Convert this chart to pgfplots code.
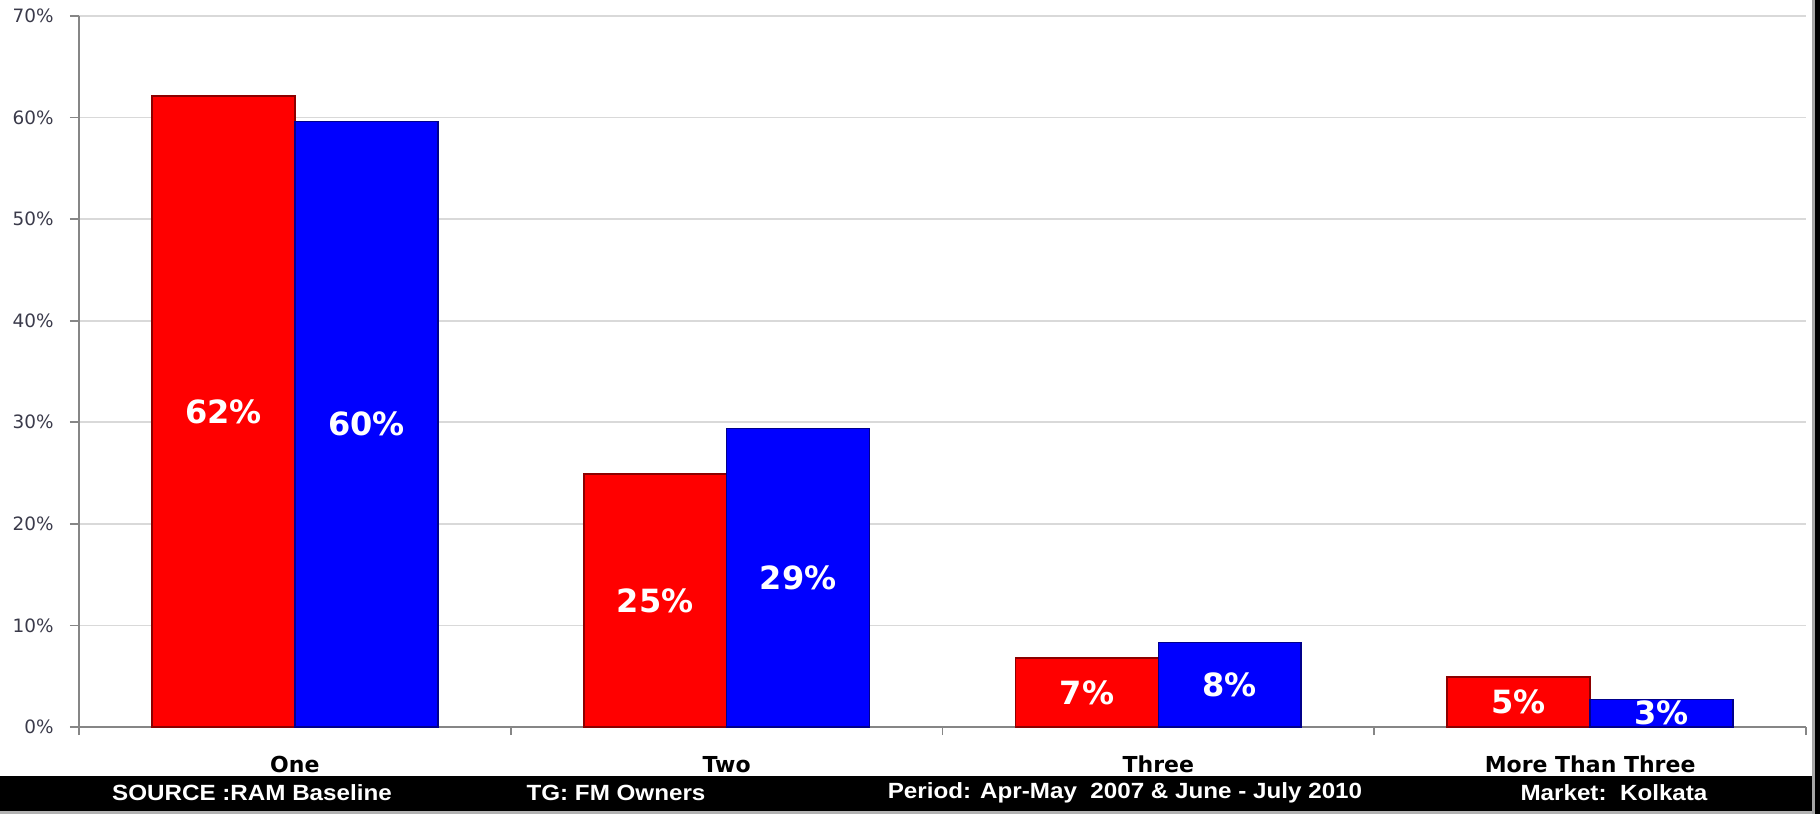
\documentclass[border=0pt]{standalone}
\usepackage{graphicx}
\usepackage{pgfplots}
\pgfplotsset{compat=1.18}
\usepackage{pgfplotstable}
\usepackage{fontspec}
\setmainfont{DejaVu Sans}
\newfontfamily\arialfont{Liberation Sans}

\definecolor{barred}{HTML}{FF0000}
\definecolor{barblue}{HTML}{0000FF}
\definecolor{gridgray}{HTML}{D9D9D9}
\definecolor{axisgray}{HTML}{868686}
\definecolor{ticktext}{HTML}{3A3A4A}

\pgfplotstableread{
x y lbl
0 62.1 62
1 24.9 25
2 6.8 7
3 4.9 5
}\redtab
\pgfplotstableread{
x y lbl
0 59.6 60
1 29.4 29
2 8.3 8
3 2.7 3
}\bluetab

\begin{document}
\begin{tikzpicture}
\path[use as bounding box] (0,0) rectangle (910pt,407pt);
\begin{axis}[
  at={(39.5pt,43.5pt)}, anchor=south west,
  scale only axis, width=863.5pt, height=355.5pt,
  xmin=-0.5, xmax=3.5, ymin=0, ymax=70,
  axis x line*=bottom, axis y line*=left,
  axis line style={axisgray, line width=0.8pt},
  xtick={0,1,2,3},
  xticklabels={One,Two,Three,More Than Three},
  major x tick style={draw=none},
  minor xtick={-0.5,0.5,1.5,2.5,3.5},
  minor tick length=4pt,
  ytick={0,10,20,30,40,50,60,70},
  yticklabels={0\%,10\%,20\%,30\%,40\%,50\%,60\%,70\%},
  ymajorgrids, grid style={gridgray, line width=0.8pt},
  tick align=outside, major tick length=4.5pt,
  tick style={axisgray, line width=0.8pt},
  xticklabel style={font=\bfseries\fontsize{11}{11}\selectfont, text=black, anchor=base, yshift=-18pt},
  yticklabel style={font=\fontsize{9.2}{9.2}\selectfont, text=ticktext, anchor=east, inner sep=0pt, xshift=-8pt},
  every node near coord/.append style={anchor=center, text=white, font=\bfseries\fontsize{16}{16}\selectfont},
]
\addplot[ybar, bar width=0.331, bar shift=-0.1655, fill=barred, draw=barred!55!black, line width=0.8pt] table[x=x,y=y]{\redtab};
\addplot[ybar, bar width=0.331, bar shift=0.1655, fill=barblue, draw=barblue!55!black, line width=0.8pt] table[x=x,y=y]{\bluetab};
\addplot[draw=none, mark=none, nodes near coords={\pgfplotspointmeta\%}, point meta=explicit symbolic]
  table[x expr=\thisrow{x}-0.1655, y expr=\thisrow{y}/2, meta=lbl]{\redtab};
\addplot[draw=none, mark=none, nodes near coords={\pgfplotspointmeta\%}, point meta=explicit symbolic]
  table[x expr=\thisrow{x}+0.1655, y expr=\thisrow{y}/2, meta=lbl]{\bluetab};
\end{axis}
% footer band and frame
\fill[gray!60] (0,0) rectangle (906.5pt,1.5pt);
\fill[black] (0,1.5pt) rectangle (906.5pt,19pt);
\fill[gray!70] (906pt,0) rectangle (907.5pt,407pt);
\fill[black] (907.5pt,0) rectangle (910pt,407pt);
\begin{scope}[every node/.style={text=white, font=\arialfont\bfseries\fontsize{11}{13}\selectfont, inner sep=0pt}]
\node at (126pt,10.5pt) {\scalebox{1.1}[1]{SOURCE :RAM Baseline}};
\node at (308pt,10.5pt) {\scalebox{1.1}[1]{TG: FM Owners}};
\node at (562.5pt,10.5pt) {\scalebox{1.1}[1]{Period: Apr-May\ \ 2007 \& June - July 2010}};
\node at (807pt,10.5pt) {\scalebox{1.1}[1]{Market:\ \ Kolkata}};
\end{scope}
\end{tikzpicture}
\end{document}
